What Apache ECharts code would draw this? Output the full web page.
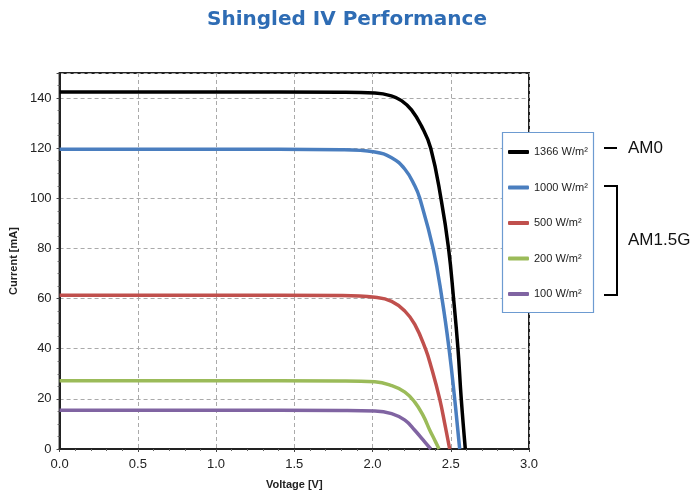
<!DOCTYPE html>
<html><head><meta charset="utf-8">
<script src="https://cdn.jsdelivr.net/npm/echarts@6/dist/echarts.min.js"></script>
<style>html,body{margin:0;padding:0;background:#fff}#c{width:694px;height:495px}</style>
</head><body><div id="c"></div>
<script>
var seriesNames = ['1366 W/m²', '1000 W/m²', '500 W/m²', '200 W/m²', '100 W/m²'];
var seriesColors = ['#000000', '#4a7ebf', '#c0504d', '#9bbb59', '#8064a2'];

var blackV = [0, 1.0, 1.8, 2.015, 2.12, 2.185, 2.249, 2.313, 2.372, 2.44, 2.486, 2.518, 2.546, 2.567, 2.593];
var blackI = [142.4, 142.4, 142.3, 142.0, 140.9, 139.0, 135.3, 128.8, 120, 99, 80, 60, 40, 20, 0];

var blueV = [0, 1.0, 1.8, 2.015, 2.122, 2.207, 2.270, 2.302, 2.387, 2.444, 2.489, 2.525, 2.557];
var blueI = [119.6, 119.6, 119.4, 118.5, 116.2, 111.6, 105.0, 100, 80, 60, 40, 20, 0];

var redV = [0, 1.0, 1.8, 2.015, 2.122, 2.207, 2.270, 2.338, 2.376, 2.429, 2.465, 2.493];
var redI = [61.3, 61.3, 61.2, 60.5, 58.9, 55.0, 49.7, 40, 32.5, 20, 9, 0];

var greenV = [0, 1.0, 1.8, 2.015, 2.122, 2.207, 2.270, 2.323, 2.366, 2.397, 2.425];
var greenI = [27.2, 27.2, 27.1, 26.8, 25.3, 22.7, 18.7, 13.4, 7.5, 3.6, 0];

var purpleV = [0, 1.0, 1.8, 2.015, 2.122, 2.207, 2.270, 2.323, 2.372];
var purpleI = [15.5, 15.5, 15.4, 15.2, 14.1, 11.5, 7.5, 3.6, 0];

var xTicks = [0, 0.5, 1.0, 1.5, 2.0, 2.5, 3.0];
var yTicks = [0, 20, 40, 60, 80, 100, 120, 140];

function zip(v, i) { return v.map(function (x, k) { return [x, i[k]]; }); }
var allData = [zip(blackV, blackI), zip(blueV, blueI), zip(redV, redI), zip(greenV, greenI), zip(purpleV, purpleI)];

var chart = echarts.init(document.getElementById('c'), null, {renderer: 'canvas'});
var fontTick = 'Liberation Sans, Arial, sans-serif';

var option = {
  animation: false,
  backgroundColor: '#fff',
  title: {
    text: 'Shingled IV Performance', left: 'center', top: 5,
    textStyle: {fontFamily: 'DejaVu Sans, sans-serif', fontWeight: 'bold', fontSize: 20, color: '#2e6cb4'}
  },
  grid: {left: 57, right: 165, top: 73, bottom: 43, show: true, borderColor: '#222', borderWidth: 2, backgroundColor: 'transparent'},
  xAxis: {
    type: 'value', min: xTicks[0], max: xTicks[xTicks.length - 1], interval: 0.5,
    name: 'Voltage [V]', nameLocation: 'middle', nameGap: 30,
    nameTextStyle: {fontFamily: fontTick, fontWeight: 'bold', fontSize: 11, color: '#222'},
    axisLine: {show: true, lineStyle: {color: '#222', width: 2}},
    axisTick: {show: true, length: 3, lineStyle: {color: '#444'}},
    minorTick: {show: true, splitNumber: 5, length: 2, lineStyle: {color: '#666'}},
    axisLabel: {fontFamily: fontTick, fontSize: 13, color: '#222', margin: 9, formatter: function (v) { return v.toFixed(1); }},
    splitLine: {show: true, lineStyle: {color: '#aaa', type: [4, 3], width: 1}}
  },
  yAxis: {
    type: 'value', min: 0, max: 150, interval: 20,
    name: 'Current [mA]', nameLocation: 'middle', nameGap: 37,
    nameTextStyle: {fontFamily: fontTick, fontWeight: 'bold', fontSize: 11, color: '#222'},
    axisLine: {show: true, lineStyle: {color: '#222', width: 2}},
    axisTick: {show: true, length: 3, lineStyle: {color: '#444'}},
    minorTick: {show: true, splitNumber: 4, length: 2, lineStyle: {color: '#666'}},
    axisLabel: {fontFamily: fontTick, fontSize: 13, color: '#222', margin: 8, formatter: function (v) { return yTicks.indexOf(v) >= 0 ? String(v) : ''; }},
    splitLine: {show: true, lineStyle: {color: '#aaa', type: [4, 3], width: 1}}
  },
  legend: {
    orient: 'vertical', left: 503, top: 133, z: 60, zlevel: 0,
    padding: [12, 6, 12, 5], itemGap: 21.5,
    itemWidth: 21, itemHeight: 4, icon: 'roundRect',
    textStyle: {fontFamily: fontTick, fontSize: 11, color: '#222', lineHeight: 14},
    data: seriesNames
  },
  graphic: [
    {type: 'rect', shape: {x: 502.5, y: 132.5, width: 91, height: 180}, style: {fill: '#fff', stroke: '#6d9bd1', lineWidth: 1.2}, z: 50},
    {type: 'line', shape: {x1: 604, y1: 148, x2: 617, y2: 148}, style: {stroke: '#000', lineWidth: 2}},
    {type: 'text', x: 628, y: 148, style: {text: 'AM0', fontFamily: 'Liberation Sans, Arial, sans-serif', fontSize: 17, fill: '#111', verticalAlign: 'middle'}},
    {type: 'polyline', shape: {points: [[604, 186], [617, 186], [617, 295], [604, 295]]}, style: {stroke: '#000', lineWidth: 2, fill: null}},
    {type: 'text', x: 628, y: 240, style: {text: 'AM1.5G', fontFamily: 'Liberation Sans, Arial, sans-serif', fontSize: 17, fill: '#111', verticalAlign: 'middle'}}
  ],
  series: allData.map(function (d, k) {
    return {
      name: seriesNames[k], type: 'line', data: d, showSymbol: false, symbol: 'none',
      smooth: 0.45, clip: true,
      lineStyle: {color: seriesColors[k], width: 3.5},
      itemStyle: {color: seriesColors[k]}, z: 10 - k
    };
  })
};
chart.setOption(option);
</script>
</body></html>
